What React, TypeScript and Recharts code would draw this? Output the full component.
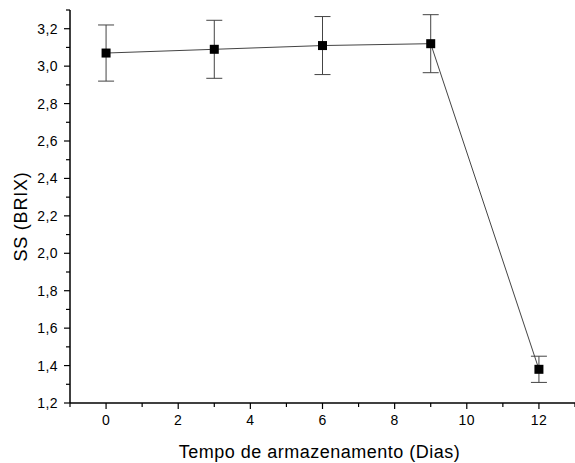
import { ComposedChart, Line, XAxis, YAxis, ErrorBar } from "recharts";

const dias = [0, 3, 6, 9, 12];
const brix = [3.07, 3.09, 3.11, 3.12, 1.38];
const desvio = [0.15, 0.155, 0.155, 0.155, 0.07];

const xTicks = [-1, 0, 1, 2, 3, 4, 5, 6, 7, 8, 9, 10, 11, 12, 13];
const yTicks = [1.2, 1.3, 1.4, 1.5, 1.6, 1.7, 1.8, 1.9, 2.0, 2.1, 2.2, 2.3, 2.4, 2.5, 2.6, 2.7, 2.8, 2.9, 3.0, 3.1, 3.2, 3.3];

const data = dias.map((d, i) => ({ dia: d, ss: brix[i], err: desvio[i] }));

const font = "'Liberation Sans', Arial, sans-serif";

const YTick = (props: any) => {
  const { x, y, payload } = props;
  const v = payload.value;
  const major = Math.round(v * 10) % 2 === 0;
  return (
    <g>
      <line x1={x - (major ? 6 : 4)} y1={y} x2={x} y2={y} stroke="#000" strokeWidth={1.2} />
      {major && (
        <text x={x - 12} y={y} dy={5} textAnchor="end" fontSize={14} fontFamily={font} letterSpacing={0.4} fill="#000">
          {v.toFixed(1).replace(".", ",")}
        </text>
      )}
    </g>
  );
};

const XTick = (props: any) => {
  const { x, y, payload } = props;
  const v = payload.value;
  const major = v % 2 === 0;
  return (
    <g>
      <line x1={x} y1={y} x2={x} y2={y + (major ? 6 : 4)} stroke="#000" strokeWidth={1.2} />
      {major && (
        <text x={x} y={y} dy={22} textAnchor="middle" fontSize={14} fontFamily={font} letterSpacing={0.4} fill="#000">
          {v}
        </text>
      )}
    </g>
  );
};

const Square = (props: any) => {
  const { cx, cy } = props;
  return <rect x={cx - 4.5} y={cy - 4.5} width={9} height={9} fill="#000" />;
};

export default function App() {
  return (
    <div style={{ position: "absolute", left: 0, top: 0, background: "#fff" }}>
      <ComposedChart width={575} height={463} data={data} margin={{ top: 10, right: 0, bottom: 0, left: 0 }}>
        <XAxis
          dataKey="dia"
          type="number"
          domain={[-1, 13]}
          ticks={xTicks}
          interval={0}
          tickLine={false}
          tickSize={0}
          tickMargin={0}
          tick={<XTick />}
          height={60}
          axisLine={{ stroke: "#000", strokeWidth: 1.5 }}
          label={{
            value: "Tempo de armazenamento (Dias)",
            position: "insideBottom",
            offset: 5,
            dx: -3,
            fontSize: 18,
            fontFamily: font,
            letterSpacing: 0.5,
            fill: "#000",
          }}
        />
        <YAxis
          type="number"
          domain={[1.2, 3.3]}
          ticks={yTicks}
          interval={0}
          tickLine={false}
          tickSize={0}
          tickMargin={0}
          tick={<YTick />}
          width={70}
          axisLine={{ stroke: "#000", strokeWidth: 1.5 }}
          label={{
            value: "SS (BRIX)",
            angle: -90,
            position: "insideLeft",
            offset: 21,
            dy: 10,
            fontSize: 18,
            fontFamily: font,
            letterSpacing: 0.8,
            fill: "#000",
            style: { textAnchor: "middle" },
          }}
        />
        <Line
          dataKey="ss"
          stroke="#444"
          strokeWidth={1}
          dot={<Square />}
          activeDot={false}
          isAnimationActive={false}
        >
          <ErrorBar dataKey="err" width={8} stroke="#444" strokeWidth={1} direction="y" />
        </Line>
      </ComposedChart>
    </div>
  );
}
